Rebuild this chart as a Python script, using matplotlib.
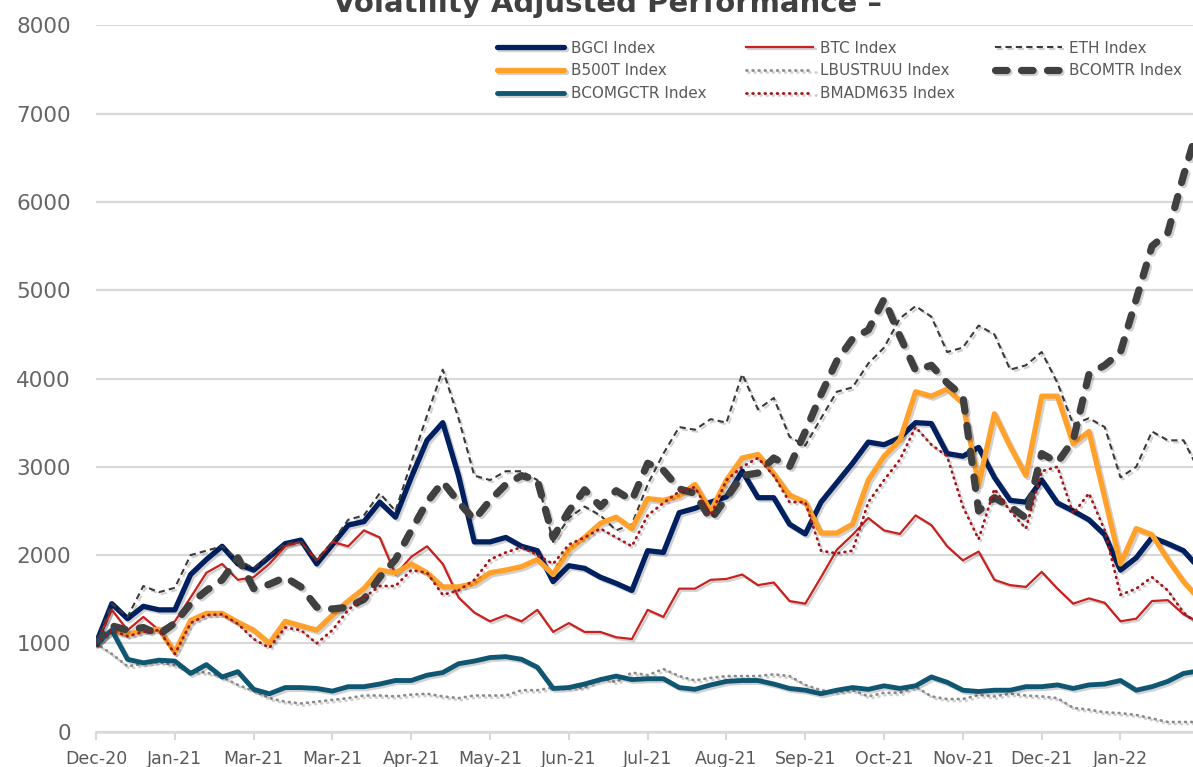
import matplotlib
matplotlib.use("Agg")
import matplotlib.pyplot as plt
import matplotlib.patheffects as pe

# x positions: 5 points per tick interval
tick_labels = ['Dec-20', 'Jan-21', 'Mar-21', 'Mar-21', 'Apr-21', 'May-21', 'Jun-21',
               'Jul-21', 'Aug-21', 'Sep-21', 'Oct-21', 'Nov-21', 'Dec-21', 'Jan-22']

bgci = [1000, 1450, 1280, 1420, 1380, 1380, 1780, 1950, 2100, 1900,
        1830, 1980, 2130, 2170, 1900, 2120, 2340, 2380, 2600, 2430,
        2880, 3300, 3500, 2900, 2150, 2150, 2200, 2100, 2050, 1700,
        1880, 1850, 1750, 1680, 1600, 2050, 2030, 2480, 2530, 2600,
        2660, 2950, 2650, 2650, 2350, 2240, 2600, 2820, 3040, 3280,
        3250, 3330, 3500, 3490, 3150, 3120, 3220, 2880, 2620, 2600,
        2850, 2590, 2500, 2400, 2230, 1830, 1970, 2200, 2130, 2050, 1850]

btc = [1000, 1380, 1150, 1300, 1150, 1250, 1520, 1800, 1900, 1720,
       1750, 1900, 2100, 2150, 1940, 2150, 2100, 2280, 2200, 1780,
       1980, 2100, 1900, 1520, 1350, 1250, 1320, 1250, 1380, 1130,
       1230, 1130, 1130, 1070, 1050, 1380, 1300, 1620, 1620, 1720,
       1730, 1780, 1660, 1690, 1480, 1450, 1750, 2060, 2230, 2420,
       2280, 2240, 2450, 2340, 2100, 1940, 2040, 1720, 1660, 1640,
       1810, 1620, 1450, 1510, 1460, 1250, 1280, 1480, 1490, 1330, 1240]

eth = [1000, 1450, 1300, 1650, 1580, 1630, 2000, 2050, 2100, 1950,
       1850, 2000, 2130, 2150, 1950, 2150, 2400, 2450, 2700, 2500,
       3050, 3580, 4100, 3550, 2900, 2850, 2950, 2950, 2850, 2150,
       2420, 2550, 2450, 2280, 2350, 2800, 3150, 3450, 3420, 3540,
       3500, 4050, 3650, 3780, 3340, 3240, 3550, 3850, 3900, 4170,
       4350, 4680, 4820, 4700, 4300, 4350, 4600, 4500, 4100, 4150,
       4300, 3950, 3480, 3550, 3450, 2880, 3000, 3400, 3300, 3300, 2950]

b500t = [1000, 1150, 1100, 1150, 1160, 900, 1260, 1340, 1340, 1240,
         1150, 1000, 1250, 1200, 1150, 1320, 1480, 1620, 1830, 1800,
         1900, 1800, 1640, 1640, 1680, 1800, 1830, 1870, 1950, 1780,
         2060, 2200, 2360, 2430, 2300, 2640, 2620, 2670, 2800, 2500,
         2850, 3100, 3140, 2920, 2680, 2600, 2250, 2250, 2350, 2850,
         3120, 3300, 3850, 3800, 3880, 3720, 2800, 3600, 3230, 2900,
         3800, 3800, 3260, 3400, 2650, 1900, 2300, 2230, 1950, 1700, 1500]

lbustruu = [1000, 880, 740, 770, 790, 750, 680, 670, 620, 530,
            460, 380, 340, 320, 340, 360, 380, 410, 410, 400,
            420, 430, 400, 380, 410, 410, 410, 470, 470, 500,
            500, 500, 610, 560, 670, 640, 710, 630, 580, 610,
            630, 630, 630, 650, 630, 530, 470, 450, 470, 400,
            440, 440, 510, 400, 370, 370, 415, 400, 430, 410,
            400, 380, 270, 250, 220, 210, 190, 150, 110, 110, 110]

bcomtr = [1000, 1200, 1150, 1180, 1100, 1230, 1450, 1600, 1720, 1970,
          1620, 1670, 1750, 1640, 1410, 1390, 1410, 1500, 1750, 1950,
          2280, 2600, 2830, 2600, 2400, 2620, 2800, 2900, 2850, 2200,
          2500, 2740, 2550, 2730, 2620, 3040, 2960, 2750, 2700, 2400,
          2650, 2900, 2930, 3100, 3000, 3400, 3820, 4200, 4450, 4550,
          4900, 4480, 4090, 4150, 3950, 3800, 2500, 2650, 2550, 2420,
          3150, 3050, 3300, 4050, 4150, 4300, 4900, 5500, 5650, 6300, 6900]

bcomgctr = [1000, 1150, 820, 780, 810, 800, 660, 760, 620, 680,
            480, 430, 500, 500, 490, 460, 510, 510, 540, 580,
            580, 640, 670, 770, 800, 840, 850, 820, 730, 490,
            500, 540, 590, 630, 590, 600, 600, 500, 480, 530,
            570, 580, 580, 540, 490, 470, 430, 470, 500, 480,
            520, 490, 520, 620, 560, 470, 455, 470, 470, 510,
            510, 530, 490, 530, 540, 580, 470, 510, 570, 660, 690]

bmadm635 = [1000, 1150, 1080, 1130, 1150, 880, 1230, 1320, 1330, 1220,
            1050, 950, 1180, 1150, 1000, 1150, 1380, 1520, 1650, 1650,
            1830, 1800, 1550, 1600, 1720, 1950, 2030, 2090, 2000, 1900,
            2120, 2200, 2300, 2200, 2100, 2450, 2590, 2720, 2770, 2450,
            2850, 3000, 3100, 2900, 2600, 2600, 2050, 2020, 2050, 2600,
            2850, 3080, 3450, 3250, 3120, 2550, 2180, 2750, 2500, 2300,
            2950, 3000, 2470, 2700, 2280, 1550, 1620, 1750, 1600, 1350, 1200]

x = list(range(len(bgci)))

plt.rcParams['font.family'] = ['DejaVu Sans']
fig = plt.figure(figsize=(11.93, 7.67), dpi=100)
ax = fig.add_axes([0.0805, 0.046, 0.9195, 0.921])

shadow = [pe.SimpleLineShadow(offset=(1.5, -1.5), shadow_color='black', alpha=0.18), pe.Normal()]

series = [
    ('BGCI Index', bgci, dict(color='#002060', lw=3.8, solid_capstyle='round')),
    ('BTC Index', btc, dict(color='#C9211E', lw=1.6)),
    ('ETH Index', eth, dict(color='#3A3A3A', lw=1.5, ls=(0, (3, 2)))),
    ('B500T Index', b500t, dict(color='#FFA12B', lw=3.8, solid_capstyle='round')),
    ('LBUSTRUU Index', lbustruu, dict(color='#8C8C8C', lw=2, ls=(0, (0.3, 1.9)), dash_capstyle='round')),
    ('BCOMTR Index', bcomtr, dict(color='#404040', lw=5.2, ls=(0, (1.6, 2.0)), dash_capstyle='round')),
    ('BCOMGCTR Index', bcomgctr, dict(color='#0F5673', lw=3.5, solid_capstyle='round')),
    ('BMADM635 Index', bmadm635, dict(color='#A0161B', lw=2, ls=(0, (0.3, 1.9)), dash_capstyle='round')),
]

handles = {}
for name, vals, kw in series:
    ln, = ax.plot(x, vals, label=name, path_effects=shadow, **kw)
    handles[name] = ln

ax.set_xlim(0, 69.6)
ax.set_ylim(0, 8000)
ax.set_yticks(range(0, 8001, 1000))
ax.set_xticks(range(0, 66, 5))
ax.set_xticklabels(tick_labels)
ax.tick_params(axis='y', length=0, pad=18, labelsize=15.5, labelcolor='#666666')
ax.tick_params(axis='x', length=6, width=1.5, color='#D9D9D9', pad=7, labelsize=12.5, labelcolor='#595959')
ax.grid(axis='y', color='#D9D9D9', lw=1.6)
ax.set_axisbelow(True)
for s in ['top', 'right', 'left']:
    ax.spines[s].set_visible(False)
ax.spines['bottom'].set_color('#D9D9D9')
ax.spines['bottom'].set_linewidth(1.8)

order = ['BGCI Index', 'B500T Index', 'BCOMGCTR Index',
         'BTC Index', 'LBUSTRUU Index', 'BMADM635 Index',
         'ETH Index', 'BCOMTR Index']
leg = fig.legend([handles[n] for n in order], order, ncol=3, loc='upper left',
                 bbox_to_anchor=(0.405, 0.965), frameon=False, fontsize=11,
                 handlelength=4.4, handletextpad=0.45, columnspacing=2.6,
                 labelspacing=0.5, labelcolor='#595959')

# title is cropped at the top edge, as in the reference
fig.text(0.509, 0.985, 'Volatility Adjusted Performance \u2013', ha='center', va='baseline',
         fontsize=21, fontweight='bold', color='#404040')

fig.savefig('out.png', dpi=100)
